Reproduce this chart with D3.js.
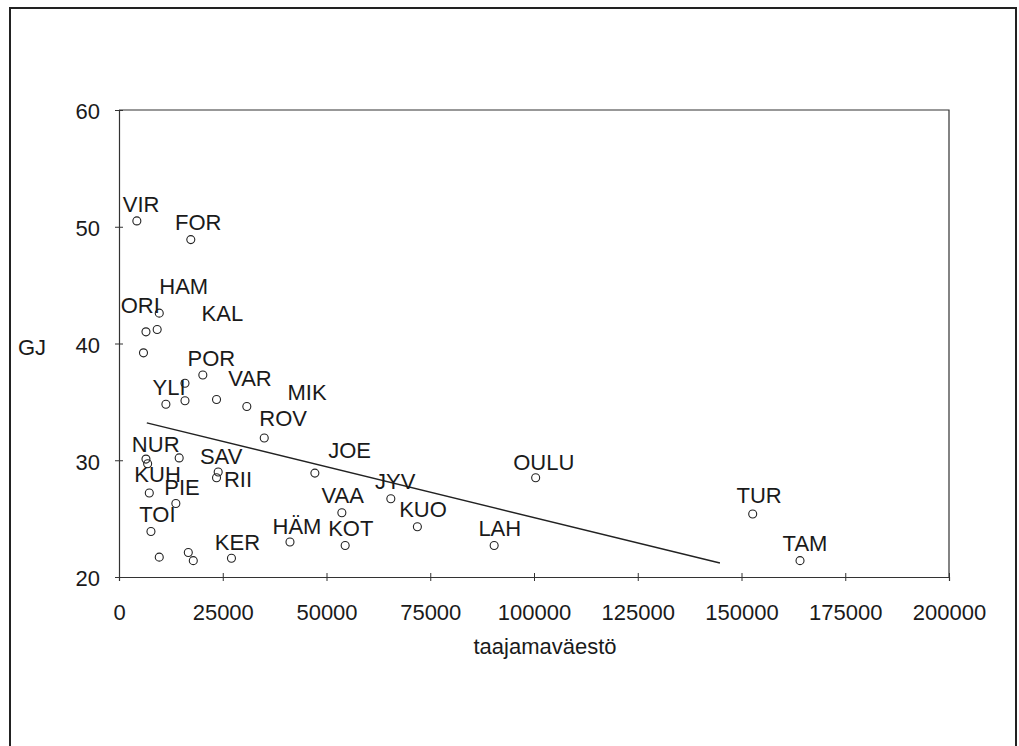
<!DOCTYPE html>
<html>
<head>
<meta charset="utf-8">
<script src="https://cdn.jsdelivr.net/npm/d3@7"></script>
<style>
  body { margin: 0; background: #fff; }
  text { font-family: "Liberation Sans", Arial, sans-serif; fill: #1a1a1a; }
</style>
</head>
<body>
<div id="chart"></div>
<script>
// scatter of municipalities: urban population vs GJ, with linear trend
var xTicks = [0, 25000, 50000, 75000, 100000, 125000, 150000, 175000, 200000];
var yTicks = [20, 30, 40, 50, 60];

// points (population, GJ)
var popValues = [4300, 17300, 9700, 6500, 9200, 5900, 20200, 15900, 11300, 15900,
    23500, 30800, 35000, 6500, 6900, 14500, 23900, 23500, 7300, 13700,
    7700, 9700, 16700, 17900, 27100, 47200, 41200, 53700, 54500, 65500,
    71900, 90400, 100400, 152700, 164100];
var gjValues = [50.5, 48.9, 42.6, 41.0, 41.2, 39.2, 37.3, 36.6, 34.8, 35.1,
    35.2, 34.6, 31.9, 30.1, 29.7, 30.2, 29.0, 28.5, 27.2, 26.3,
    23.9, 21.7, 22.1, 21.4, 21.6, 28.9, 23.0, 25.5, 22.7, 26.7,
    24.3, 22.7, 28.5, 25.4, 21.4];

// label texts and where they sit (data units, left/baseline)
var labelNames = ['VIR', 'FOR', 'HAM', 'ORI', 'KAL', 'POR', 'VAR', 'YLI', 'MIK', 'ROV',
    'NUR', 'SAV', 'JOE', 'KUH', 'RII', 'PIE', 'JYV', 'OULU', 'VAA', 'TOI',
    'KUO', 'TUR', 'HÄM', 'KOT', 'LAH', 'KER', 'TAM'];
var labelX = [900, 13500, 9700, 400, 19900, 16500, 26300, 8100, 40600, 33800,
    3100, 19500, 50400, 3700, 25300, 10900, 61700, 95000, 48800, 4900,
    67500, 148800, 37000, 50400, 86600, 23100, 159900];
var labelY = [51.3, 49.7, 44.2, 42.6, 41.9, 38.1, 36.4, 35.6, 35.2, 32.9,
    30.7, 29.7, 30.2, 28.1, 27.7, 27.0, 27.5, 29.2, 26.3, 24.7,
    25.1, 26.3, 23.7, 23.5, 23.5, 22.3, 22.2];

// trend line ends
var trendX = [6700, 144800];
var trendY = [33.2, 21.2];

var width = 1019, height = 746;
var plotLeft = 119, plotRight = 949, plotTop = 110, plotBottom = 577;

var svg = d3.select('#chart').append('svg')
    .attr('width', width)
    .attr('height', height);

// outer frame
svg.append('rect')
    .attr('x', 10).attr('y', 8)
    .attr('width', 1006).attr('height', 745)
    .attr('fill', 'none')
    .attr('stroke', '#222')
    .attr('stroke-width', 2);

var x = d3.scaleLinear().domain([0, 200000]).range([plotLeft, plotRight]);
var y = d3.scaleLinear().domain([20, 60]).range([plotBottom, plotTop]);

// plot box top and right
svg.append('path')
    .attr('d', 'M' + plotLeft + ',' + plotTop + 'H' + plotRight + 'V' + plotBottom)
    .attr('fill', 'none')
    .attr('stroke', '#333')
    .attr('stroke-width', 1.2);

var xAxis = svg.append('g')
    .attr('transform', 'translate(0,' + plotBottom + ')')
    .call(d3.axisBottom(x).tickValues(xTicks).tickFormat(d3.format('d')).tickSizeOuter(0).tickSize(4));
xAxis.selectAll('.tick line').attr('y1', -4).attr('y2', 4);
xAxis.selectAll('.tick text').attr('y', 0).attr('dy', 43)
    .style('font-size', '22px').attr('font-family', null);

var yAxis = svg.append('g')
    .attr('transform', 'translate(' + plotLeft + ',0)')
    .call(d3.axisLeft(y).tickValues(yTicks).tickSizeOuter(0).tickSize(4));
yAxis.selectAll('.tick line').attr('x1', -4).attr('x2', 4);
yAxis.selectAll('.tick text').attr('x', -19).attr('dy', '0.4em')
    .style('font-size', '22px').attr('font-family', null);

svg.selectAll('.domain').attr('stroke', '#333').attr('stroke-width', 1.2);
svg.selectAll('.tick line').attr('stroke', '#333');

// axis titles
svg.append('text')
    .attr('x', 545).attr('y', 654)
    .attr('text-anchor', 'middle')
    .style('font-size', '22px')
    .text('taajamaväestö');

svg.append('text')
    .attr('x', 18).attr('y', 355)
    .style('font-size', '22px')
    .text('GJ');

// trend line
svg.append('line')
    .attr('x1', x(trendX[0])).attr('y1', y(trendY[0]))
    .attr('x2', x(trendX[1])).attr('y2', y(trendY[1]))
    .attr('stroke', '#222')
    .attr('stroke-width', 1.4);

// points
svg.selectAll('circle.pt')
    .data(popValues)
    .enter()
    .append('circle')
    .attr('class', 'pt')
    .attr('cx', function (d) { return x(d); })
    .attr('cy', function (d, i) { return y(gjValues[i]); })
    .attr('r', 4)
    .attr('fill', 'none')
    .attr('stroke', '#222')
    .attr('stroke-width', 1.1);

// labels
svg.selectAll('text.lbl')
    .data(labelNames)
    .enter()
    .append('text')
    .attr('class', 'lbl')
    .attr('x', function (d, i) { return x(labelX[i]); })
    .attr('y', function (d, i) { return y(labelY[i]); })
    .style('font-size', '22px')
    .text(function (d) { return d; });
</script>
</body>
</html>
